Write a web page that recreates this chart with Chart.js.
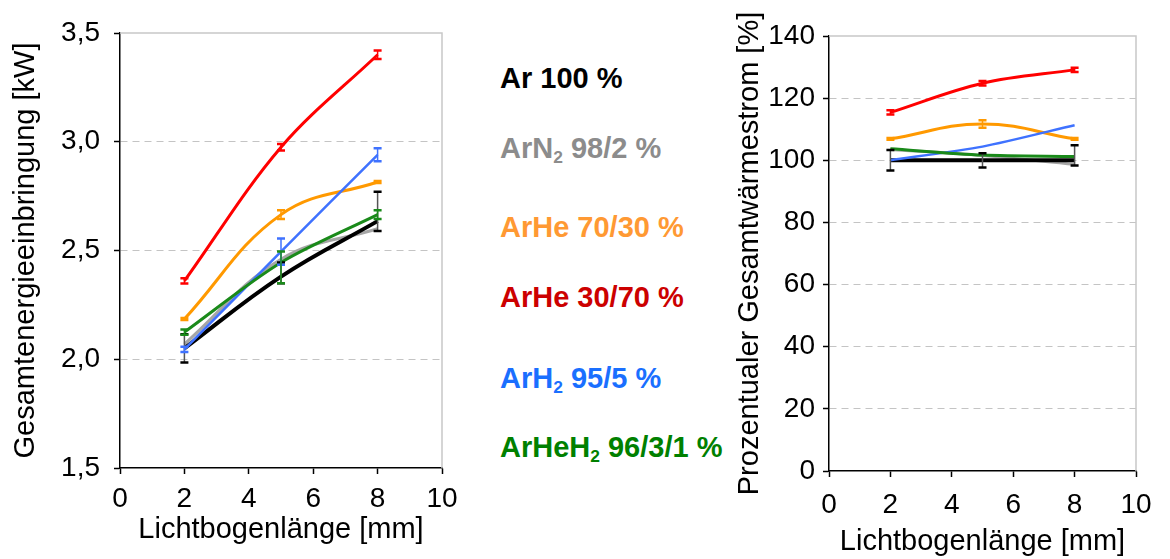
<!DOCTYPE html>
<html>
<head>
<meta charset="utf-8">
<script src="https://cdn.jsdelivr.net/npm/chart.js@4.4.0/dist/chart.umd.min.js"></script>
<style>
  body { margin: 0; background: #fff; font-family: "Liberation Sans", Arial, sans-serif; }
  #wrap { position: relative; width: 1170px; height: 559px; overflow: hidden; }
  canvas { position: absolute; top: 0; }
  .leg { position: absolute; left: 500px; font-size: 29px; line-height: 28px; font-weight: bold; white-space: nowrap; }
  .leg sub { font-size: 60%; vertical-align: -0.3em; line-height: 0; }
</style>
</head>
<body>
<div id="wrap">
  <canvas id="energie" width="470" height="559" style="left:0"></canvas>
  <canvas id="waerme" width="440" height="559" style="left:730px"></canvas>
</div>
<script>
// x-waarden: lichtbooglengte in mm
const lengths = [2, 5, 8];

// namen en kleuren van de gassen (legenda in het midden)
const gasLabels = ['Ar 100 %', 'ArN<sub>2</sub> 98/2 %', 'ArHe 70/30 %', 'ArHe 30/70 %', 'ArH<sub>2</sub> 95/5 %', 'ArHeH<sub>2</sub> 96/3/1 %'];
const textColors = ['#000000', '#8c8c8c', '#ff9933', '#cc0000', '#1a6fff', '#008000'];
const lineColors = ['#000000', '#a6a6a6', '#ff9900', '#ff0000', '#3f72ff', '#1a8a1a'];
const legendBaselines = [88, 158, 237, 307, 388, 457];

// linker grafiek: Gesamtenergieeinbringung [kW]
const energieAr     = [2.05, 2.38, 2.635];
const energieArN2   = [2.07, 2.46, 2.60];
const energieArHe70 = [2.185, 2.665, 2.815];
const energieArHe30 = [2.36, 2.975, 3.40];
const energieArH2   = [2.045, 2.495, 2.94];
const energieArHeH2 = [2.125, 2.445, 2.665];

// foutmarges [min, plus] per punt
const energieArErr     = [[0.065, 0.065], [0.03, 0.065], [0.045, 0.135]];
const energieArN2Err   = null;
const energieArHe70Err = [[0.005, 0.005], [0.02, 0.02], [0.005, 0.005]];
const energieArHe30Err = [[0.012, 0.012], [0.015, 0.015], [0.02, 0.02]];
const energieArH2Err   = [[0.012, 0.012], [0.06, 0.06], [0.03, 0.03]];
const energieArHeH2Err = [[0.012, 0.012], [0.095, 0.05], [0.02, 0.02]];

// rechter grafiek: Prozentualer Gesamtwärmestrom [%]
const waermeAr     = [100, 100, 100];
const waermeArN2   = [103.5, 101.5, 98.7];
const waermeArHe70 = [106.9, 111.7, 106.9];
const waermeArHe30 = [115.4, 124.8, 129.1];
const waermeArH2   = [100, 104.4, 111.3];
const waermeArHeH2 = [103.7, 101.7, 101.2];

const waermeArErr     = [[3.3, 3.3], [2.3, 2.3], [1.7, 4.8]];
const waermeArN2Err   = null;
const waermeArHe70Err = [[0.3, 0.3], [1.2, 1.2], [0.3, 0.3]];
const waermeArHe30Err = [[0.7, 0.7], [0.7, 0.7], [0.7, 0.7]];
const waermeArH2Err   = null;
const waermeArHeH2Err = null;

// tekenvolgorde: laag getal komt bovenop
const drawOrder = [5, 6, 4, 3, 2, 1];
const lineWidths = [4, 3, 3, 3, 2.5, 3];
const tensions = [0.4, 0.4, 0.4, 0.35, 0.25, 0.3];

const FONT = '"Liberation Sans", Arial, sans-serif';

// legenda als gewone tekst
const wrap = document.getElementById('wrap');
for (let i = 0; i < gasLabels.length; i++) {
  const div = document.createElement('div');
  div.className = 'leg';
  div.innerHTML = gasLabels[i];
  div.style.color = textColors[i];
  div.style.top = (legendBaselines[i] - 24) + 'px';
  wrap.appendChild(div);
}

// foutbalken tekenen via de schalen van Chart.js
const errorBars = {
  id: 'errorBars',
  afterDatasetsDraw(chart) {
    const ctx = chart.ctx;
    const xs = chart.scales.x, ys = chart.scales.y;
    const metas = chart.getSortedVisibleDatasetMetas().slice().reverse();
    for (const meta of metas) {
      const ds = chart.data.datasets[meta.index];
      if (!ds.errors) continue;
      ctx.save();
      for (let i = 0; i < ds.data.length; i++) {
        const p = ds.data[i];
        const [minus, plus] = ds.errors[i];
        const px = xs.getPixelForValue(p.x);
        const yLow = ys.getPixelForValue(p.y - minus);
        const yHigh = ys.getPixelForValue(p.y + plus);
        // zwarte reeks heeft een donkergrijze staaf
        ctx.strokeStyle = ds.borderColor === '#000000' ? '#555555' : ds.borderColor;
        ctx.lineWidth = 1.5;
        ctx.beginPath();
        ctx.moveTo(px, yLow);
        ctx.lineTo(px, yHigh);
        ctx.stroke();
        ctx.strokeStyle = ds.borderColor;
        ctx.lineWidth = 2.5;
        ctx.beginPath();
        ctx.moveTo(px - 4, yLow);
        ctx.lineTo(px + 4, yLow);
        ctx.moveTo(px - 4, yHigh);
        ctx.lineTo(px + 4, yHigh);
        ctx.stroke();
      }
      ctx.restore();
    }
  }
};

// lichtgrijze rand boven en rechts
const plotFrame = {
  id: 'plotFrame',
  beforeDatasetsDraw(chart) {
    const { ctx, chartArea: a } = chart;
    ctx.save();
    ctx.strokeStyle = '#c8c8c8';
    ctx.lineWidth = 1.5;
    ctx.beginPath();
    ctx.moveTo(a.left, a.top);
    ctx.lineTo(a.right, a.top);
    ctx.lineTo(a.right, a.bottom);
    ctx.stroke();
    ctx.restore();
  }
};

function makeDatasets(series, errors) {
  return series.map((values, i) => ({
    label: gasLabels[i].replace(/<\/?sub>/g, ''),
    data: values.map((v, j) => ({ x: lengths[j], y: v })),
    errors: errors[i],
    borderColor: lineColors[i],
    backgroundColor: lineColors[i],
    borderWidth: lineWidths[i],
    tension: tensions[i],
    pointRadius: 0,
    order: drawOrder[i],
    fill: false
  }));
}

function makeChart(id, cfg) {
  return new Chart(document.getElementById(id), {
    type: 'line',
    data: { datasets: makeDatasets(cfg.series, cfg.errors) },
    options: {
      responsive: false,
      animation: false,
      devicePixelRatio: 1,
      layout: { padding: { top: cfg.top, right: cfg.right, left: 0, bottom: 0 } },
      plugins: { legend: { display: false }, tooltip: { enabled: false } },
      scales: {
        x: {
          type: 'linear',
          min: 0, max: 10,
          afterFit: s => { s.height = cfg.xHeight; },
          ticks: { stepSize: 2, color: '#000', font: { family: FONT, size: 28 }, padding: cfg.xTickPad, maxRotation: 0 },
          grid: { drawOnChartArea: false, drawTicks: true, tickLength: 6, tickColor: '#000', tickWidth: 1.5 },
          border: { display: true, color: '#000', width: 1.5 },
          title: { display: true, text: 'Lichtbogenlänge [mm]', color: '#000', font: { family: FONT, size: 29 }, padding: { top: 0, bottom: cfg.xTitlePad } }
        },
        y: {
          min: cfg.yMin, max: cfg.yMax,
          afterFit: s => { s.width = cfg.yWidth; },
          ticks: { stepSize: cfg.yStep, color: '#000', font: { family: FONT, size: 28 }, padding: cfg.yTickPad, callback: cfg.yFormat },
          grid: {
            color: c => (c.tick && (c.tick.value === cfg.yMin || c.tick.value === cfg.yMax)) ? 'rgba(0,0,0,0)' : '#c4c4c4',
            tickBorderDash: [],
            tickLength: 6, tickColor: '#000', tickWidth: 1.5, lineWidth: 1
          },
          border: { display: true, color: '#000', width: 1.5, dash: [7, 5] },
          title: { display: true, text: cfg.yTitle, color: '#000', font: { family: FONT, size: 29 }, padding: { top: cfg.yTitlePad, bottom: 0 } }
        }
      }
    },
    plugins: [plotFrame, errorBars]
  });
}

makeChart('energie', {
  series: [energieAr, energieArN2, energieArHe70, energieArHe30, energieArH2, energieArHeH2],
  errors: [energieArErr, energieArN2Err, energieArHe70Err, energieArHe30Err, energieArH2Err, energieArHeH2Err],
  yMin: 1.5, yMax: 3.5, yStep: 0.5,
  yFormat: v => v.toFixed(1).replace('.', ','),
  yTitle: 'Gesamtenergieeinbringung [kW]',
  top: 33, right: 28, yWidth: 120, xHeight: 91,
  xTickPad: 8, xTitlePad: 12, yTickPad: 14, yTitlePad: 9
});

makeChart('waerme', {
  series: [waermeAr, waermeArN2, waermeArHe70, waermeArHe30, waermeArH2, waermeArHeH2],
  errors: [waermeArErr, waermeArN2Err, waermeArHe70Err, waermeArHe30Err, waermeArH2Err, waermeArHeH2Err],
  yMin: 0, yMax: 140, yStep: 20,
  yFormat: v => String(v),
  yTitle: 'Prozentualer Gesamtwärmestrom [%]',
  top: 36, right: 34, yWidth: 99, xHeight: 88,
  xTickPad: 11, xTitlePad: 0, yTickPad: 8, yTitlePad: 3
});
</script>
</body>
</html>
